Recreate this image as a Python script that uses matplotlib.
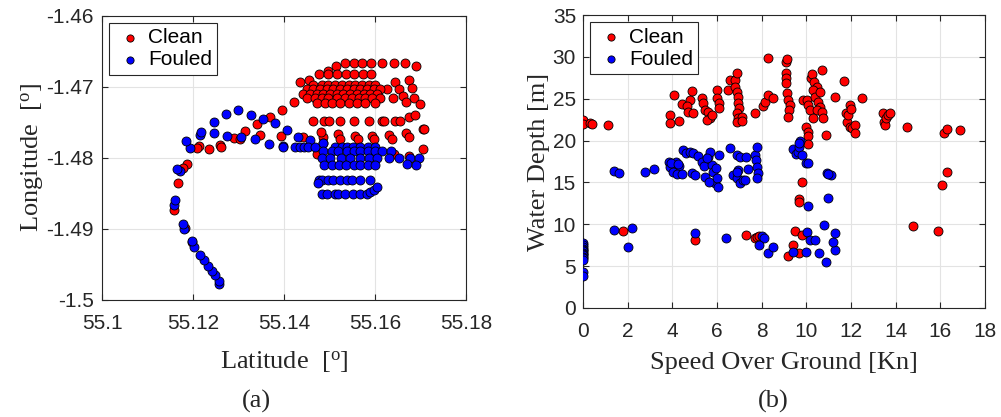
import numpy as np
import matplotlib
matplotlib.use("Agg")
import matplotlib.pyplot as plt

# ---- panel (a): ship position -------------------------------------------
clean_lat = [
    55.1534, 55.1553, 55.1571, 55.1590, 55.1615, 55.1640, 55.1666, 55.1689, 55.1514, 55.1496,
    55.1477, 55.1496, 55.1516, 55.1535, 55.1554, 55.1573, 55.1591,
    55.1434, 55.1454, 55.1644, 55.1673, 55.1651, 55.1681, 55.1626, 55.1639, 55.1660, 55.1684,
    55.1668, 55.1698, 55.1422, 55.1396,
    55.1464, 55.1483, 55.1497, 55.1512, 55.1527, 55.1541, 55.1556, 55.1571, 55.1585, 55.1600,
    55.1450, 55.1464, 55.1479, 55.1494, 55.1508, 55.1523, 55.1538, 55.1552, 55.1567, 55.1582,
    55.1596, 55.1611,
    55.1442, 55.1457, 55.1472, 55.1486, 55.1501, 55.1516, 55.1530, 55.1545, 55.1560, 55.1574,
    55.1589, 55.1604,
    55.1450, 55.1468, 55.1483, 55.1497, 55.1516, 55.1534, 55.1549, 55.1563, 55.1578, 55.1593,
    55.1611,
    55.1472, 55.1490, 55.1505, 55.1523, 55.1541, 55.1560, 55.1578, 55.1600,
    55.1464, 55.1487, 55.1498, 55.1522, 55.1554, 55.1586, 55.1615, 55.1620, 55.1642, 55.1653,
    55.1673, 55.1686, 55.1705,
    55.1485, 55.1481, 55.1519, 55.1523, 55.1556, 55.1561, 55.1593, 55.1598, 55.1629, 55.1637,
    55.1668, 55.1673, 55.1706, 55.1441,
    55.1472, 55.1640, 55.1673, 55.1704,
    55.1368, 55.1340, 55.1313, 55.1347, 55.1393, 55.1289, 55.1302, 55.1258, 55.1261, 55.1235,
    55.1213, 55.1209, 55.1186, 55.1177, 55.1166, 55.1158, 55.1182, 55.1198,
]
clean_lon = [
    -1.4667, -1.4667, -1.4667, -1.4667, -1.4667, -1.4667, -1.4667, -1.4670, -1.4671, -1.4677,
    -1.4682, -1.4682, -1.4682, -1.4682, -1.4682, -1.4682, -1.4682,
    -1.4693, -1.4690, -1.4693, -1.4690, -1.4703, -1.4702, -1.4703, -1.4716, -1.4713, -1.4716,
    -1.4721, -1.4724, -1.4722, -1.4732,
    -1.4697, -1.4697, -1.4697, -1.4697, -1.4697, -1.4697, -1.4697, -1.4697, -1.4697, -1.4697,
    -1.4703, -1.4703, -1.4703, -1.4703, -1.4703, -1.4703, -1.4703, -1.4703, -1.4703, -1.4703,
    -1.4703, -1.4703,
    -1.4710, -1.4710, -1.4710, -1.4710, -1.4710, -1.4710, -1.4710, -1.4710, -1.4710, -1.4710,
    -1.4710, -1.4710,
    -1.4716, -1.4716, -1.4716, -1.4716, -1.4716, -1.4716, -1.4716, -1.4716, -1.4716, -1.4716,
    -1.4716,
    -1.4723, -1.4723, -1.4723, -1.4723, -1.4723, -1.4723, -1.4723, -1.4723,
    -1.4748, -1.4748, -1.4748, -1.4748, -1.4748, -1.4748, -1.4748, -1.4748, -1.4748, -1.4748,
    -1.4742, -1.4739, -1.4760,
    -1.4771, -1.4764, -1.4767, -1.4774, -1.4769, -1.4774, -1.4769, -1.4774, -1.4768, -1.4773,
    -1.4765, -1.4771, -1.4760, -1.4770,
    -1.4795, -1.4795, -1.4798, -1.4787,
    -1.4742, -1.4752, -1.4762, -1.4768, -1.4769, -1.4772, -1.4774, -1.4782, -1.4785, -1.4787,
    -1.4783, -1.4786, -1.4808, -1.4814, -1.4836, -1.4874, -1.4899, -1.4919,
]

fouled_lat = [
    55.1256, 55.1257, 55.1248, 55.1241, 55.1232, 55.1223, 55.1215, 55.1201, 55.1197, 55.1179,
    55.1177, 55.1158, 55.1160, 55.1171, 55.1164, 55.1193, 55.1184, 55.1214, 55.1218, 55.1246,
    55.1245, 55.1272, 55.1299, 55.1327, 55.1275, 55.1305, 55.1336, 55.1353, 55.1380, 55.1367,
    55.1397, 55.1406, 55.1431, 55.1457, 55.1484,
    55.1397, 55.1424, 55.1435, 55.1444, 55.1453, 55.1468, 55.1486, 55.1512, 55.1527, 55.1538,
    55.1551, 55.1567, 55.1583, 55.1600,
    55.1486, 55.1504, 55.1519, 55.1538, 55.1552, 55.1567, 55.1583, 55.1600, 55.1615, 55.1634,
    55.1482, 55.1501, 55.1524, 55.1545, 55.1567, 55.1587, 55.1604, 55.1629, 55.1651, 55.1677,
    55.1696,
    55.1488, 55.1504, 55.1521, 55.1536, 55.1552, 55.1567, 55.1583, 55.1600, 55.1670, 55.1690,
    55.1476, 55.1482, 55.1495, 55.1507, 55.1522, 55.1538, 55.1549, 55.1567, 55.1588, 55.1473,
    55.1483, 55.1494, 55.1512, 55.1519, 55.1533, 55.1551, 55.1567, 55.1582, 55.1589, 55.1598,
    55.1604,
]
fouled_lon = [
    -1.4978, -1.4974, -1.4965, -1.4959, -1.4952, -1.4944, -1.4937, -1.4926, -1.4917, -1.4900,
    -1.4893, -1.4866, -1.4860, -1.4819, -1.4816, -1.4786, -1.4776, -1.4768, -1.4764, -1.4765,
    -1.4750, -1.4738, -1.4733, -1.4739, -1.4769, -1.4771, -1.4774, -1.4745, -1.4751, -1.4780,
    -1.4784, -1.4761, -1.4770, -1.4775, -1.4779,
    -1.4785, -1.4785, -1.4785, -1.4785, -1.4785, -1.4785, -1.4779, -1.4785, -1.4785, -1.4785,
    -1.4785, -1.4785, -1.4785, -1.4785,
    -1.4791, -1.4791, -1.4791, -1.4791, -1.4791, -1.4791, -1.4791, -1.4791, -1.4791, -1.4791,
    -1.4800, -1.4800, -1.4800, -1.4800, -1.4800, -1.4800, -1.4800, -1.4800, -1.4800, -1.4800,
    -1.4800,
    -1.4810, -1.4810, -1.4810, -1.4810, -1.4810, -1.4810, -1.4810, -1.4810, -1.4809, -1.4810,
    -1.4831, -1.4831, -1.4831, -1.4831, -1.4831, -1.4831, -1.4831, -1.4831, -1.4831, -1.4836,
    -1.4851, -1.4851, -1.4851, -1.4851, -1.4851, -1.4851, -1.4851, -1.4851, -1.4848, -1.4845,
    -1.4841,
]

# ---- panel (b): water depth against speed --------------------------------
clean_sog = [
    0.0, 0.0, 0.3, 0.4, 1.1,
    4.09, 3.90, 3.90, 4.31, 4.42, 4.79, 4.90, 4.64, 4.72, 4.94, 5.31, 5.39, 5.46, 5.61, 5.69,
    5.54, 5.76, 5.99, 6.01, 6.10, 6.07, 6.51, 6.58, 6.81, 6.88, 6.81, 6.88, 6.93, 6.96, 7.00,
    6.88, 6.96, 7.10, 6.88, 7.10, 7.70, 8.07, 8.15, 8.30, 8.49, 8.27, 9.09, 9.15, 9.09, 9.09,
    9.09, 9.12, 9.19, 9.27, 9.24, 9.19, 9.87, 10.01, 10.09, 10.16, 10.19, 10.27, 10.34, 10.46,
    10.31, 10.39, 10.54, 10.61, 10.46, 10.69, 10.73, 10.31, 10.61, 10.69, 11.28, 9.99, 10.09,
    10.06, 10.88,
    11.69, 11.78, 11.84, 11.88, 11.96, 11.96, 11.99, 12.03, 12.18, 12.18, 12.48, 13.45, 13.48,
    13.52, 13.57, 13.67, 13.75, 14.49, 16.18, 16.28, 16.88,
    1.81, 5.01, 7.30, 7.70, 7.78, 7.90, 9.49, 9.39, 9.19, 9.69, 9.79, 9.79, 9.69, 9.69, 10.09,
    14.79, 15.88, 16.07, 16.28,
]
clean_depth = [
    22.5, 22.0, 22.1, 22.0, 21.9,
    25.45, 23.06, 22.14, 22.34, 24.37, 24.85, 25.97, 24.13, 23.46, 23.26, 25.05, 24.45, 23.66,
    23.46, 22.66, 22.46, 23.06, 26.05, 25.05, 24.45, 23.86, 26.05, 27.24, 27.24, 28.04, 26.44,
    25.85, 25.25, 24.45, 23.86, 23.26, 22.66, 22.86, 22.26, 22.38, 23.34, 24.13, 24.65, 25.45,
    25.05, 29.83, 29.43, 29.71, 28.04, 27.44, 26.84, 25.73, 24.85, 24.25, 23.66, 22.86, 24.85,
    24.85, 24.25, 23.66, 27.44, 27.96, 27.04, 26.44, 26.05, 25.25, 24.65, 24.05, 23.66, 23.46,
    22.66, 22.66, 25.85, 28.44, 25.25, 21.58, 21.07, 20.55, 20.67,
    27.16, 23.26, 22.26, 23.06, 24.25, 21.58, 23.74, 21.47, 21.86, 20.95, 25.05, 23.34, 22.26,
    21.86, 22.66, 23.06, 23.26, 21.66, 20.95, 21.35, 21.27,
    9.24, 8.12, 8.72, 8.40, 8.52, 8.60, 9.24, 7.53, 6.25, 6.61, 8.72, 15.09, 12.98, 12.70,
    19.59, 9.80, 9.24, 14.74, 16.25,
]

fouled_sog = [
    0.0, 0.0, 0.0, 0.0, 0.0, 0.0, 0.0, 0.0, 0.0, 0.0, 0.0, 0.0, 0.0, 0.0,
    1.40, 1.63, 1.40, 2.21, 2.00, 2.78, 3.18,
    3.87, 3.90, 4.16, 4.31, 4.04, 4.22, 4.42, 4.49, 4.61, 4.79, 4.91, 4.87, 5.01, 5.16, 5.31,
    5.42, 5.46, 5.61, 5.69, 5.76, 5.84, 5.91, 5.96, 6.01, 6.06, 6.10, 6.58, 6.88, 7.03, 7.30,
    6.73, 6.96, 6.88, 7.03, 7.18, 7.40, 7.70, 7.75, 7.78, 7.81, 7.85, 7.81, 5.54, 5.66, 3.93,
    4.27, 6.91, 7.25,
    9.42, 9.54, 9.64, 9.72, 9.69, 9.69, 9.79, 9.99, 10.09, 10.91, 11.09, 10.99,
    5.01, 6.40, 8.00, 8.10, 7.90, 8.30, 8.49, 9.39, 9.99, 10.58, 10.88, 11.28, 11.21, 11.28,
    10.79, 10.01, 10.16, 10.39, 10.09, 10.99,
]
fouled_depth = [
    7.73, 7.50, 7.33, 7.10, 6.93, 6.75, 6.61, 6.45, 6.33, 6.13, 5.93, 5.75, 4.34, 3.82,
    16.41, 16.17, 9.32, 9.56, 7.33, 16.21, 16.61,
    17.40, 16.89, 17.40, 16.97, 16.29, 16.01, 15.97, 18.88, 18.48, 18.68, 18.48, 16.09, 15.89,
    18.16, 17.48, 16.97, 15.69, 18.08, 18.68, 17.08, 16.29, 14.89, 16.69, 15.49, 14.50, 18.28,
    19.08, 18.28, 18.08, 18.08, 15.89, 16.49, 15.49, 14.89, 15.29, 16.57, 18.28, 17.68, 19.20,
    16.89, 16.09, 15.49, 17.88, 15.09, 17.36, 17.20, 16.29, 15.29,
    19.00, 18.40, 18.68, 20.00, 19.28, 19.67, 18.28, 17.28, 17.28, 16.09, 15.89, 16.00,
    8.92, 8.40, 8.60, 8.32, 7.50, 6.61, 7.33, 6.73, 6.73, 6.53, 5.54, 6.93, 7.93, 9.00, 9.92,
    9.04, 8.12, 8.12, 12.20, 13.10,
]

lat_ticks = [55.1, 55.12, 55.14, 55.16, 55.18]
lat_labels = ["55.1", "55.12", "55.14", "55.16", "55.18"]
lon_ticks = [-1.5, -1.49, -1.48, -1.47, -1.46]
lon_labels = ["-1.5", "-1.49", "-1.48", "-1.47", "-1.46"]
sog_ticks = list(range(0, 19, 2))
depth_ticks = list(range(0, 36, 5))

dark = "#262626"
sans = ["Liberation Sans", "DejaVu Sans"]
serif = ["Liberation Serif", "DejaVu Serif"]
plt.rcParams["font.family"] = sans
plt.rcParams["mathtext.default"] = "regular"


def style_axes(ax, ypad):
    ax.grid(True, color="#e3e3e3", linewidth=0.8)
    ax.set_axisbelow(True)
    ax.tick_params(direction="in", top=True, right=True, length=4.5, width=0.8,
                   colors=dark, labelsize=15)
    ax.tick_params(axis="x", pad=10)
    ax.tick_params(axis="y", pad=ypad)
    for sp in ax.spines.values():
        sp.set_color(dark)
        sp.set_linewidth(0.8)


def add_points(ax, x_clean, y_clean, x_fouled, y_fouled):
    kw = dict(s=42, edgecolors="black", linewidths=0.6, zorder=3)
    ax.scatter(x_clean, y_clean, c="#ff0000", label="Clean", **kw)
    ax.scatter(x_fouled, y_fouled, c="#0000ff", label="Fouled", **kw)
    leg = ax.legend(loc="upper left", fontsize=15, frameon=True, fancybox=False,
                    framealpha=1, edgecolor=dark, borderpad=0.25, handletextpad=0.1,
                    labelspacing=0.15, handlelength=1.5, borderaxespad=0.35,
                    scatterpoints=1, markerscale=0.8)
    leg.get_frame().set_linewidth(0.8)


fig = plt.figure(figsize=(10.01, 4.17), dpi=100)

ax1 = fig.add_axes([0.102, 0.281, 0.364, 0.681])
add_points(ax1, clean_lat, clean_lon, fouled_lat, fouled_lon)
ax1.set_xlim(55.1, 55.18)
ax1.set_ylim(-1.5, -1.46)
ax1.set_xticks(lat_ticks)
ax1.set_xticklabels(lat_labels)
ax1.set_yticks(lon_ticks)
ax1.set_yticklabels(lon_labels)
style_axes(ax1, ypad=6)
ax1.set_xlabel("Latitude  [$^{o}$]", family=serif, fontsize=19, color=dark, labelpad=12)
ax1.set_ylabel("Longitude  [$^{o}$]", family=serif, fontsize=19, color=dark, labelpad=0)

ax2 = fig.add_axes([0.5824, 0.2614, 0.4016, 0.7026])
add_points(ax2, clean_sog, clean_depth, fouled_sog, fouled_depth)
ax2.set_xlim(0, 18)
ax2.set_ylim(0, 35)
ax2.set_xticks(sog_ticks)
ax2.set_yticks(depth_ticks)
style_axes(ax2, ypad=5)
ax2.set_xlabel("Speed Over Ground [Kn]", family=serif, fontsize=19, color=dark, labelpad=8)
ax2.set_ylabel("Water Depth [m]", family=serif, fontsize=19, color=dark, labelpad=2)

fig.text(0.256, 0.037, "(a)", family=serif, fontsize=19, color=dark, ha="center", va="center")
fig.text(0.772, 0.037, "(b)", family=serif, fontsize=19, color=dark, ha="center", va="center")

fig.savefig("out.png", dpi=100)
